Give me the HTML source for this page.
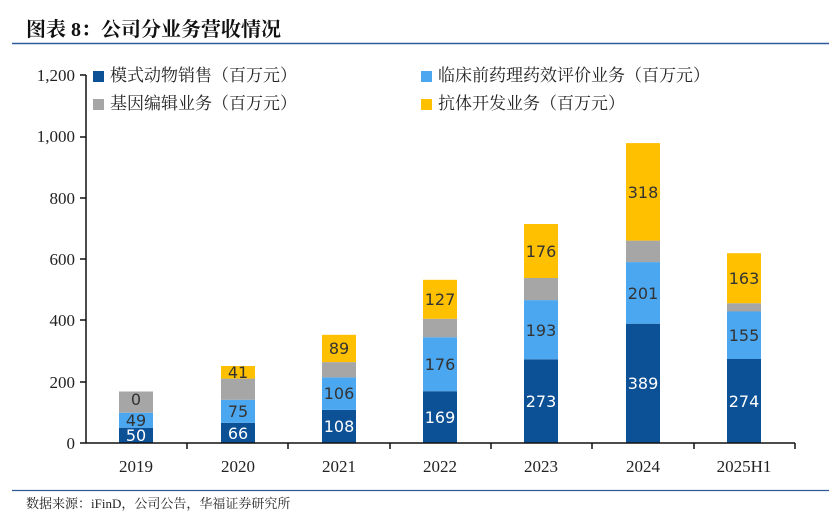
<!DOCTYPE html>
<html><head><meta charset="utf-8"><style>
body{margin:0;background:#fff;width:829px;height:520px;overflow:hidden}
svg{display:block}
.cj{font-family:"Liberation Serif","Noto Serif CJK SC",serif}
.lb{font-family:"DejaVu Sans","Liberation Sans",sans-serif;font-size:16px;text-anchor:middle;fill:#333}
.w{fill:#fff}
</style></head><body>
<svg width="829" height="520" xmlns="http://www.w3.org/2000/svg">
<text x="26" y="36" class="cj" font-size="20" font-weight="bold" fill="#111">图表 8：公司分业务营收情况</text>
<line x1="12" y1="43.5" x2="829" y2="43.5" stroke="#2e5c9a" stroke-width="1.5"/>
<line x1="12" y1="490.5" x2="829" y2="490.5" stroke="#2e5c9a" stroke-width="1.2"/>
<text x="26" y="508" class="cj" font-size="13" fill="#222">数据来源：iFinD，公司公告，华福证券研究所</text>
<g class="cj" font-size="17" fill="#222" text-anchor="end">
<text x="75" y="81">1,200</text><text x="75" y="142">1,000</text><text x="75" y="204">800</text>
<text x="75" y="265">600</text><text x="75" y="326">400</text><text x="75" y="388">200</text><text x="75" y="449">0</text>
</g>
<g>
<rect x="119" y="427.7" width="34" height="15.3" fill="#0c5095"/><rect x="119" y="412.7" width="34" height="15" fill="#4ba7f0"/><rect x="119" y="391.5" width="34" height="21.2" fill="#a6a6a6"/>
<rect x="221" y="422.8" width="34" height="20.2" fill="#0c5095"/><rect x="221" y="399.8" width="34" height="23" fill="#4ba7f0"/><rect x="221" y="378.6" width="34" height="21.2" fill="#a6a6a6"/><rect x="221" y="366" width="34" height="12.6" fill="#ffc000"/>
<rect x="322" y="409.9" width="34" height="33.1" fill="#0c5095"/><rect x="322" y="377.4" width="34" height="32.5" fill="#4ba7f0"/><rect x="322" y="362.1" width="34" height="15.3" fill="#a6a6a6"/><rect x="322" y="334.8" width="34" height="27.3" fill="#ffc000"/>
<rect x="423" y="391.2" width="34" height="51.8" fill="#0c5095"/><rect x="423" y="337.2" width="34" height="54" fill="#4ba7f0"/><rect x="423" y="318.8" width="34" height="18.4" fill="#a6a6a6"/><rect x="423" y="279.8" width="34" height="39" fill="#ffc000"/>
<rect x="524" y="359.3" width="34" height="83.7" fill="#0c5095"/><rect x="524" y="300.1" width="34" height="59.2" fill="#4ba7f0"/><rect x="524" y="278" width="34" height="22.1" fill="#a6a6a6"/><rect x="524" y="224" width="34" height="54" fill="#ffc000"/>
<rect x="626" y="323.7" width="34" height="119.3" fill="#0c5095"/><rect x="626" y="262.1" width="34" height="61.6" fill="#4ba7f0"/><rect x="626" y="240.6" width="34" height="21.5" fill="#a6a6a6"/><rect x="626" y="143.1" width="34" height="97.5" fill="#ffc000"/>
<rect x="727" y="359" width="34" height="84" fill="#0c5095"/><rect x="727" y="311.5" width="34" height="47.5" fill="#4ba7f0"/><rect x="727" y="303.2" width="34" height="8.3" fill="#a6a6a6"/><rect x="727" y="253.2" width="34" height="50" fill="#ffc000"/>
</g>
<g>
<text class="lb w" x="136" y="441">50</text><text class="lb" x="136" y="426">49</text><text class="lb" x="136" y="405">0</text>
<text class="lb w" x="238" y="439">66</text><text class="lb" x="238" y="417">75</text><text class="lb" x="238" y="378">41</text>
<text class="lb w" x="339" y="432">108</text><text class="lb" x="339" y="399">106</text><text class="lb" x="339" y="354">89</text>
<text class="lb w" x="440" y="423">169</text><text class="lb" x="440" y="370">176</text><text class="lb" x="440" y="305">127</text>
<text class="lb w" x="541" y="407">273</text><text class="lb" x="541" y="336">193</text><text class="lb" x="541" y="257">176</text>
<text class="lb w" x="643" y="389">389</text><text class="lb" x="643" y="299">201</text><text class="lb" x="643" y="198">318</text>
<text class="lb w" x="744" y="407">274</text><text class="lb" x="744" y="341">155</text><text class="lb" x="744" y="284">163</text>
</g>
<g stroke="#111" stroke-width="1.5">
<line x1="86" y1="75" x2="86" y2="443"/><line x1="86" y1="443" x2="795" y2="443"/>
<line x1="80" y1="75" x2="86" y2="75"/><line x1="80" y1="137" x2="86" y2="137"/><line x1="80" y1="198" x2="86" y2="198"/>
<line x1="80" y1="259" x2="86" y2="259"/><line x1="80" y1="320" x2="86" y2="320"/><line x1="80" y1="382" x2="86" y2="382"/><line x1="80" y1="443" x2="86" y2="443"/>
<line x1="187" y1="443" x2="187" y2="449"/><line x1="288" y1="443" x2="288" y2="449"/><line x1="390" y1="443" x2="390" y2="449"/>
<line x1="491" y1="443" x2="491" y2="449"/><line x1="592" y1="443" x2="592" y2="449"/><line x1="694" y1="443" x2="694" y2="449"/><line x1="795" y1="443" x2="795" y2="449"/>
</g>
<g class="cj" font-size="17" fill="#222" text-anchor="middle">
<text x="136" y="472">2019</text><text x="238" y="472">2020</text><text x="339" y="472">2021</text><text x="440" y="472">2022</text>
<text x="541" y="472">2023</text><text x="643" y="472">2024</text><text x="744" y="472">2025H1</text>
</g>
<g class="cj" font-size="17" fill="#222">
<rect x="93" y="71" width="11" height="11" fill="#0c5095"/><text x="110" y="81">模式动物销售（百万元）</text>
<rect x="93" y="99" width="11" height="11" fill="#a6a6a6"/><text x="110" y="109">基因编辑业务（百万元）</text>
<rect x="421" y="71" width="11" height="11" fill="#4ba7f0"/><text x="438" y="81">临床前药理药效评价业务（百万元）</text>
<rect x="421" y="99" width="11" height="11" fill="#ffc000"/><text x="438" y="109">抗体开发业务（百万元）</text>
</g>
</svg>
</body></html>
